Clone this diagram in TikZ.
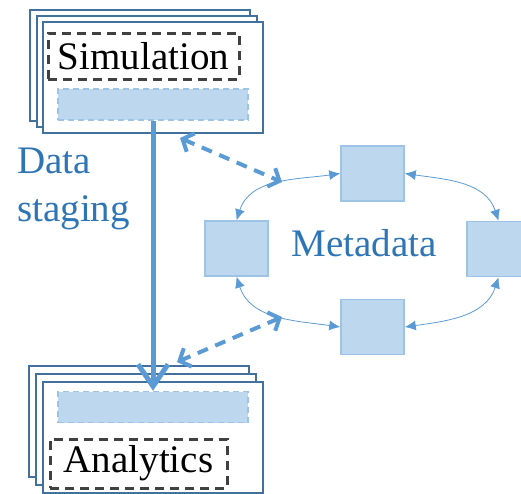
\documentclass[tikz,border=0pt]{standalone}
\usepackage{fontspec}
\setmainfont{Liberation Serif}
\newfontfamily\diagfont{Liberation Serif}
\usetikzlibrary{arrows.meta,positioning}
\usepackage{xcolor}
\definecolor{sheetline}{HTML}{41719C}
\definecolor{bufferfill}{HTML}{BDD7EE}
\definecolor{bufferline}{HTML}{9DC3E6}
\definecolor{flow}{HTML}{5B9BD5}
\definecolor{caption}{HTML}{2E75B6}
\definecolor{labelline}{HTML}{404040}

\begin{document}
\begin{tikzpicture}[
  x=1pt, y=-1pt,
  every node/.style={font=\diagfont\fontsize{39}{48}\selectfont},
  sheet/.style={draw=sheetline, line width=2pt, fill=white,
                minimum width=220pt, minimum height=111pt, inner sep=0pt},
  tag/.style={draw=labelline, line width=3pt, dash pattern=on 9pt off 6pt,
              inner xsep=0pt, inner ysep=0pt, minimum height=46pt},
  buffer/.style={draw=bufferline, fill=bufferfill, line width=1.5pt,
                 dash pattern=on 6pt off 4pt, minimum width=190pt,
                 minimum height=31pt, inner sep=0pt},
  meta/.style={draw=bufferline, fill=bufferfill, line width=1.5pt,
               minimum width=63pt, minimum height=55pt, inner sep=0pt},
  ring/.style={{Latex[length=11pt,width=10pt,fill=flow]}-{Latex[length=11pt,width=10pt,fill=flow]},
               draw=flow, line width=0.8pt},
  stage/.style={-{Straight Barb[length=22pt,width=30pt,line width=5pt]},
                draw=flow, line width=5pt},
  query/.style={{Straight Barb[length=9pt,width=20pt,line width=4pt]}-{Straight Barb[length=9pt,width=20pt,line width=4pt]},
                draw=flow, line width=4pt, dash pattern=on 11pt off 8pt},
]
\useasboundingbox (0,0) rectangle (521,493);

%% Simulation stack
\node[sheet] (simback) at (139.5,65) {};
\node[sheet] (simmid)  at (146.5,71.5) {};
\node[sheet] (sim)     at (153,77.5) {};
\node[tag, minimum width=191pt] (simlabel) at (143.5,56) {Simulation};
\node[buffer] (simbuf)   at (153,104.5) {};

%% Analytics stack
\node[sheet] (anaback) at (138.5,421) {};
\node[sheet] (anamid)  at (145.5,429) {};
\node[sheet] (ana)     at (153,437.5) {};
\node[buffer] (anabuf)   at (153,407) {};
\node[tag, minimum width=177pt, minimum height=49pt] (analabel) at (138.5,463.5) {Analytics};

%% Staging path
\node[text=caption, align=left, anchor=north west, inner sep=0pt] (staging)
  at (17,148) {Data\\staging};
\draw[stage] (simbuf) -- (anabuf);

%% Metadata ring
\node[meta] (mdtop)   at (372.5,173.5) {};
\node[meta] (mdleft)  at (236.5,248.5) {};
\node[meta] (mdright) at (498.5,249) {};
\node[meta] (mdbot)   at (372.5,327) {};
\node[text=caption] (mdtext) at (364,243) {Metadata};

\draw[ring] (mdtop.west)   to[out=188, in=72]  (mdleft.north);
\draw[ring] (mdtop.east)   to[out=-8,  in=108] (mdright.north);
\draw[ring] (mdbot.west)   to[out=172, in=-72] (mdleft.south);
\draw[ring] (mdbot.east)   to[out=8,   in=-108] (mdright.south);

%% Queries between the stacks and the ring
\coordinate (simport) at (180,138);
\coordinate (mdin)    at (282,182);
\coordinate (mdout)   at (282,317);
\coordinate (anaport) at (177,362);
\draw[query] (simport) -- (mdin);
\draw[query] (mdout) -- (anaport);

\end{tikzpicture}
\end{document}
